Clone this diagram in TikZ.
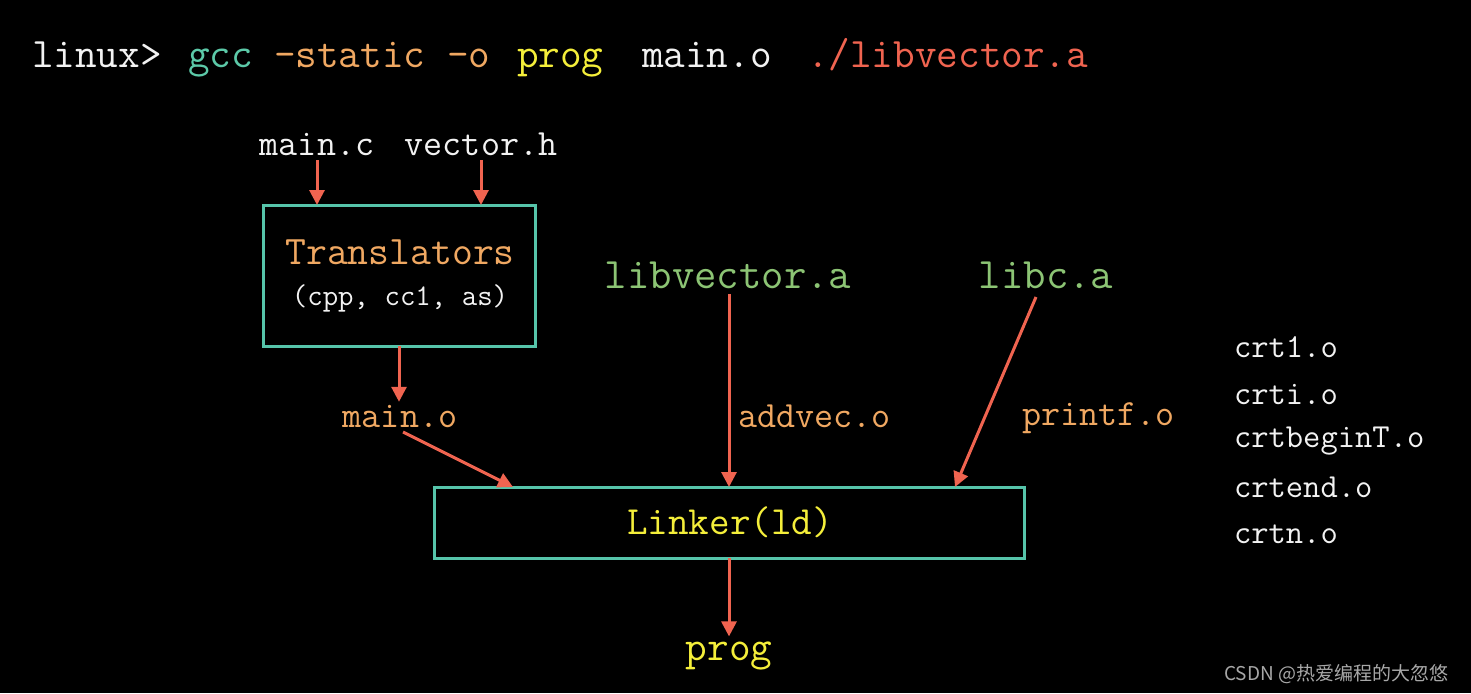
\documentclass[tikz,border=0pt]{standalone}
\usepackage{fontspec}
\newfontfamily\cjk{Noto Sans CJK SC}
\usetikzlibrary{arrows.meta}
\definecolor{cwhite}{HTML}{F2F2F2}
\definecolor{cteal}{HTML}{5CC9A8}
\definecolor{corange}{HTML}{F0A862}
\definecolor{cyellow}{HTML}{F4EE3A}
\definecolor{cred}{HTML}{F06450}
\definecolor{cgreen}{HTML}{8CC474}
\definecolor{cbox}{HTML}{56C4AA}
\definecolor{cgray}{HTML}{A8A8A8}
\begin{document}
\begin{tikzpicture}[x=1pt,y=-1pt,
  txt/.style={inner sep=0pt,outer sep=0pt,font=\ttfamily},
  big/.style={txt,font=\ttfamily\fontsize{42}{42}\selectfont},
  mid/.style={txt,font=\ttfamily\fontsize{37}{37}\selectfont},
  sml/.style={txt,font=\ttfamily\fontsize{30}{30}\selectfont},
  crt/.style={txt,font=\ttfamily\fontsize{33.6}{34}\selectfont,text=cwhite,anchor=base west},
  boxst/.style={draw=cbox,line width=3pt,inner sep=0pt,outer sep=0pt},
  arr/.style={draw=cred,line width=3pt,-{Triangle[length=15pt,width=15pt]}}]
\fill[black] (0,0) rectangle (1471,693);
\useasboundingbox (0,0) rectangle (1471,693);
% command line
\node[big,anchor=base west,text=cwhite] (cmd1) at (32,67) {linux>};
\node[big,anchor=base west,text=cteal] (cmd2) at (188,67) {gcc};
\node[big,anchor=base west,text=corange] (cmd3) at (274,67) {-static -o};
\node[big,anchor=base west,text=cyellow] (cmd4) at (517,67) {prog};
\node[big,anchor=base west,text=cwhite] (cmd5) at (642,67) {main.o};
\node[big,anchor=base west,text=cred] (cmd6) at (807,67) {./libvector.a};
% sources
\node[mid,anchor=base,text=cwhite] (mainc) at (317,155) {main.c};
\node[mid,anchor=base,text=cwhite] (vech) at (481,155) {vector.h};
% translators box
\node[boxst,minimum width=272pt,minimum height=141pt] (trans) at (399,275.5) {};
\node[txt,font=\ttfamily\fontsize{40.5}{41}\selectfont,anchor=base,text=corange] (transt) at (400,264) {Translators};
\node[sml,anchor=base,text=cwhite] (transs) at (400,305) {(cpp, cc1, as)};
% main.o
\node[mid,anchor=base,text=corange] (maino) at (400,427) {main.o};
% libs
\node[txt,font=\ttfamily\fontsize{43.5}{44}\selectfont,anchor=base,text=cgreen] (libv) at (728,288) {libvector.a};
\node[txt,font=\ttfamily\fontsize{43.5}{44}\selectfont,anchor=base,text=cgreen] (libc) at (1046,288) {libc.a};
\node[mid,anchor=base west,text=corange] (addv) at (738,427) {addvec.o};
\node[mid,anchor=base west,text=corange] (prf) at (1022,425) {printf.o};
% linker
\node[boxst,minimum width=590pt,minimum height=71pt] (linker) at (729,522.5) {};
\node[txt,font=\ttfamily\fontsize{40}{40}\selectfont,anchor=base,text=cyellow] (linkt) at (730,534) {Linker(ld)};
\node[big,anchor=base,text=cyellow] (prog) at (729,660) {prog};
% crt files
\node[crt] (c1) at (1234,357) {crt1.o};
\node[crt] (c2) at (1234,404) {crti.o};
\node[crt] (c3) at (1234,447) {crtbeginT.o};
\node[crt] (c4) at (1234,497) {crtend.o};
\node[crt] (c5) at (1234,543) {crtn.o};
% watermark
\node[inner sep=0pt,anchor=base west,text=cgray,font=\cjk\fontsize{19}{19}\selectfont] (wm) at (1224,680) {CSDN @热爱编程的大忽悠};
% connectors
\coordinate (mo1) at (403,432);
\coordinate (mo2) at (513,487);
\coordinate (lc1) at (1036,297);
\coordinate (lc2) at (955,487);
\draw[arr] ([yshift=-5pt]mainc.south) -- (mainc.south |- trans.north);
\draw[arr] ([yshift=-5pt]vech.south) -- (vech.south |- trans.north);
\draw[arr] (trans.south) -- ([yshift=3pt]trans.south |- maino.north);
\draw[arr] (mo1) -- (mo2);
\draw[arr] ([yshift=-6pt]libv.south -| linker.north) -- (linker.north);
\draw[arr] (lc1) -- (lc2);
\draw[arr] (linker.south) -- ([yshift=5pt]prog.north);
\end{tikzpicture}
\end{document}
